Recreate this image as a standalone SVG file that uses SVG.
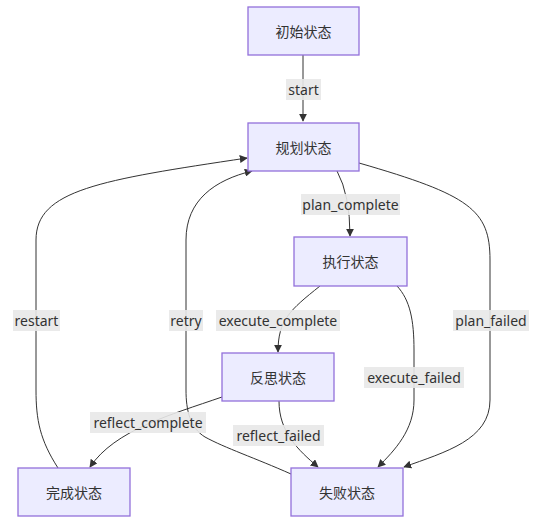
<svg xmlns="http://www.w3.org/2000/svg" width="541" height="532" viewBox="0 0 541 532">
<style>
.node rect{fill:#ECECFF;stroke:#9370DB;stroke-width:1.3}
.node text{font-family:"Noto Sans","Noto Sans CJK SC",sans-serif;font-size:14px;fill:#333;text-anchor:middle;dominant-baseline:central}
.edge{fill:none;stroke:#333;stroke-width:1}
.lbl rect{fill:#e8e8e8;fill-opacity:0.9}
.lbl text{font-family:"Noto Sans",sans-serif;font-size:14px;fill:#333;text-anchor:middle;dominant-baseline:central}
</style>
<defs>
<marker id="arr" viewBox="0 0 10 10" refX="9" refY="5" markerWidth="8" markerHeight="8" orient="auto" markerUnits="userSpaceOnUse">
<path d="M0,0 L10,5 L0,10 z" fill="#333"/>
</marker>
</defs>
<rect width="541" height="532" fill="#fff"/>
<g id="connectors">
<path class="edge" d="M303,55 L303,121" marker-end="url(#arr)"/>
<path class="edge" d="M337,171 Q350,195 350,236" marker-end="url(#arr)"/>
<path class="edge" d="M359,163 C470,195 490,210 490,260 L490,400 C490,440 445,452 404,467" marker-end="url(#arr)"/>
<path class="edge" d="M320,286 C290,310 278,320 278,352" marker-end="url(#arr)"/>
<path class="edge" d="M397,286 C410,300 414,320 414,350 L414,400 C414,430 395,450 378,467" marker-end="url(#arr)"/>
<path class="edge" d="M222,397 C170,415 115,430 90,467" marker-end="url(#arr)"/>
<path class="edge" d="M279,401 C279,432 298,450 318,467" marker-end="url(#arr)"/>
<path class="edge" d="M291,474 C255,458 225,448 205,437 C190,428 186,410 186,390 L186,240 C186,200 215,180 252,171" marker-end="url(#arr)"/>
<path class="edge" d="M58,468 C40,440 36,420 36,390 L36,240 C36,190 100,180 247,158" marker-end="url(#arr)"/>
<g class="lbl"><rect x="286" y="79" width="35" height="21"/><text x="303.5" y="89.5">start</text></g>
<g class="lbl"><rect x="301" y="194" width="99" height="21"/><text x="350.5" y="204.5">plan_complete</text></g>
<g class="lbl"><rect x="453" y="310" width="76" height="21"/><text x="491" y="320.5">plan_failed</text></g>
<g class="lbl"><rect x="216" y="310" width="124" height="21"/><text x="278" y="320.5">execute_complete</text></g>
<g class="lbl"><rect x="364" y="367" width="100" height="21"/><text x="414" y="377.5">execute_failed</text></g>
<g class="lbl"><rect x="90" y="412" width="116" height="21"/><text x="148" y="422.5">reflect_complete</text></g>
<g class="lbl"><rect x="233" y="425" width="91" height="21"/><text x="278.5" y="435.5">reflect_failed</text></g>
<g class="lbl"><rect x="169" y="310" width="34" height="21"/><text x="186" y="320.5">retry</text></g>
<g class="lbl"><rect x="13" y="310" width="47" height="21"/><text x="36.5" y="320.5">restart</text></g>
</g>
<g id="init" class="node"><rect x="248" y="7" width="111" height="48"/><text x="303.5" y="31">初始状态</text></g>
<g id="plan" class="node"><rect x="248" y="123" width="111" height="48"/><text x="303.5" y="147">规划状态</text></g>
<g id="exec" class="node"><rect x="294" y="237" width="113" height="49"/><text x="350.5" y="261.5">执行状态</text></g>
<g id="reflect" class="node"><rect x="222" y="353" width="112" height="48"/><text x="278" y="377">反思状态</text></g>
<g id="done" class="node"><rect x="18" y="468" width="112" height="48"/><text x="74" y="492">完成状态</text></g>
<g id="fail" class="node"><rect x="291" y="468" width="112" height="48"/><text x="347" y="492">失败状态</text></g>
</svg>
